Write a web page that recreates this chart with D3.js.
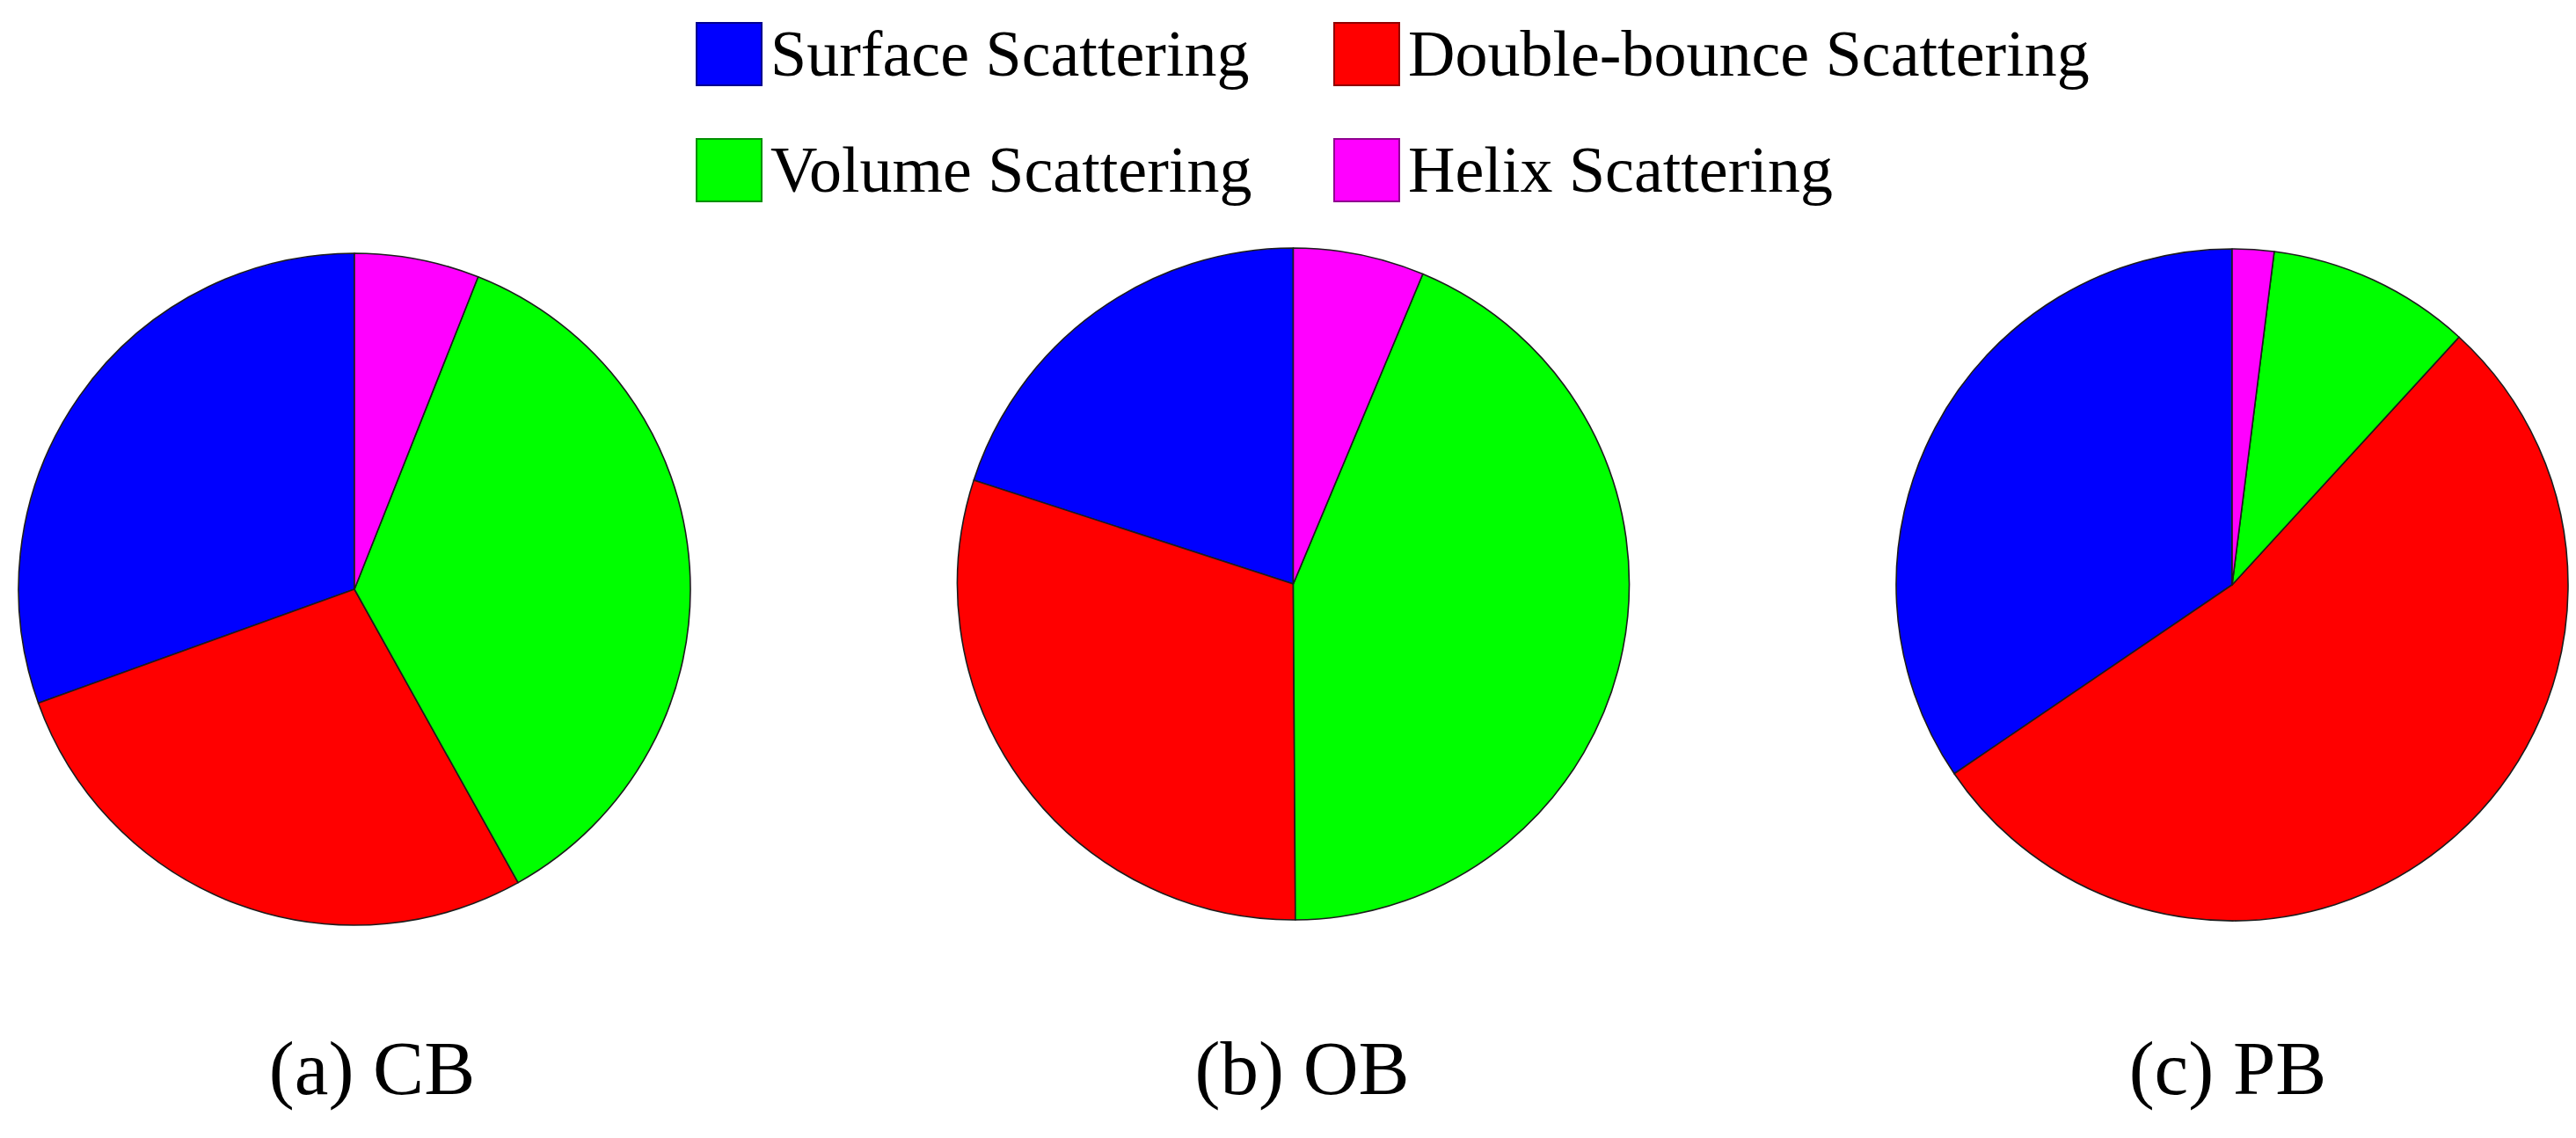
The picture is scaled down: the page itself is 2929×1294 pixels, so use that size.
<!DOCTYPE html>
<html>
<head>
<meta charset="utf-8">
<script src="https://cdn.jsdelivr.net/npm/d3@7/dist/d3.min.js"></script>
<style>
  html, body { margin: 0; padding: 0; background: #fff; }
  svg { display: block; }
</style>
</head>
<body>
<svg id="chart" width="2929" height="1294"></svg>
<script>
// ---- Data ----
const categories = ["Surface Scattering", "Double-bounce Scattering", "Volume Scattering", "Helix Scattering"];
const colors = ["#0000FF", "#FF0000", "#00FF00", "#FF00FF"];
const panels = ["(a) CB", "(b) OB", "(c) PB"];
const valuesCB = [30.5, 27.6, 35.9, 6.0];
const valuesOB = [20.0, 30.1, 43.6, 6.3];
const valuesPB = [34.5, 53.7, 9.8, 2.0];
const seriesValues = [valuesCB, valuesOB, valuesPB];

// ---- Layout ----
const W = 2929, H = 1294;
const svg = d3.select("#chart");
const fontFamily = "'Liberation Serif', 'Times New Roman', serif";

const xPanel = d3.scalePoint().domain(panels).range([403, 2538]);
const cyPanel = [670, 664, 665];
const radius = 382;

const color = d3.scaleOrdinal().domain(categories).range(colors);

const pie = d3.pie().sort(null).value(d => d.value)
  .startAngle(0).endAngle(-2 * Math.PI);
const arc = d3.arc().innerRadius(0).outerRadius(radius);

panels.forEach((p, i) => {
  const data = categories.map((c, j) => ({ cat: c, value: seriesValues[i][j] }));
  const g = svg.append("g")
    .attr("transform", `translate(${xPanel(p)},${cyPanel[i]})`);
  g.selectAll("path")
    .data(pie(data))
    .join("path")
    .attr("d", arc)
    .attr("fill", d => color(d.data.cat))
    .attr("stroke", "#1c1c1c")
    .attr("stroke-width", 1.6)
    .attr("stroke-linejoin", "round");

  svg.append("text")
    .attr("x", xPanel(p) + [20, 10, -5][i])
    .attr("y", 1244)
    .attr("text-anchor", "middle")
    .attr("font-family", fontFamily)
    .attr("font-size", 87)
    .attr("fill", "#000")
    .text(p);
});

// ---- Legend ----
const legendCols = [792, 1517];
const legendRows = [26, 158];
const boxW = 74, boxH = 71;
const legend = svg.append("g");
categories.forEach((c, j) => {
  const x = legendCols[j % 2];
  const y = legendRows[Math.floor(j / 2)];
  legend.append("rect")
    .attr("x", x).attr("y", y)
    .attr("width", boxW).attr("height", boxH)
    .attr("fill", color(c))
    .attr("stroke", d3.color(color(c)).darker(1.6))
    .attr("stroke-width", 2);
  legend.append("text")
    .attr("x", x + boxW + 10)
    .attr("y", y + 60)
    .attr("font-family", fontFamily)
    .attr("font-size", 74)
    .attr("fill", "#000")
    .text(c);
});
</script>
</body>
</html>
